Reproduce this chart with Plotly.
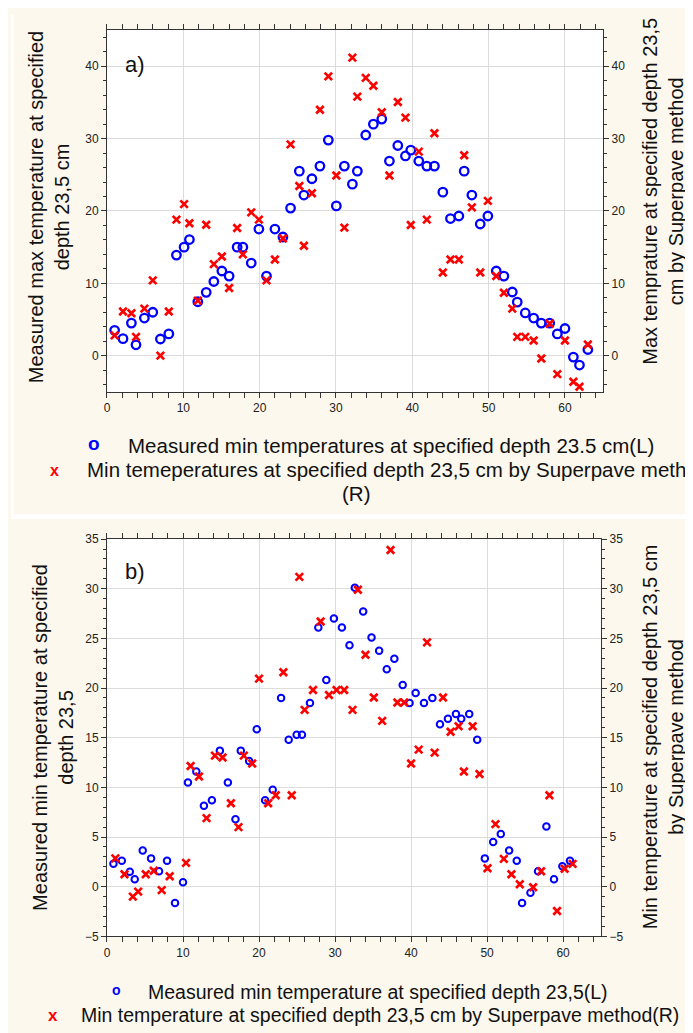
import plotly.graph_objects as go

# panel a) - day index, measured (L) and Superpave (R)
a_x = [1.0, 2.1, 3.2, 3.8, 4.9, 6.0, 7.0, 8.1, 9.1, 10.1, 10.8, 11.9, 13.0, 14.0, 15.05,
       16.0, 17.05, 17.8, 18.9, 19.9, 20.9, 22.0, 23.05, 24.05, 25.2, 25.8, 26.85, 27.9,
       29.0, 30.05, 31.1, 32.15, 32.8, 33.9, 34.9, 36.0, 37.0, 38.1, 39.1, 39.8, 40.85,
       41.9, 42.9, 44.0, 45.0, 46.1, 46.8, 47.8, 48.9, 49.9, 51.0, 52.0, 53.1, 53.75,
       54.8, 55.9, 56.9, 58.0, 59.0, 60.0, 61.1, 61.9, 63.0]
a_measured = [3.5, 2.35, 4.5, 1.5, 5.2, 6.0, 2.3, 3.0, 13.9, 15.0, 16.05, 7.45, 8.75, 10.25,
              11.7, 11.0, 15.0, 15.0, 12.8, 17.5, 11.0, 17.5, 16.4, 20.4, 25.5, 22.2, 24.45,
              26.2, 29.8, 20.7, 26.2, 23.7, 25.5, 30.5, 32.0, 32.7, 26.9, 29.05, 27.6, 28.4,
              26.9, 26.2, 26.2, 22.6, 18.95, 19.3, 25.5, 22.2, 18.2, 19.3, 11.7, 11.0, 8.8,
              7.4, 5.9, 5.2, 4.5, 4.5, 3.0, 3.75, -0.2, -1.3, 0.85]
a_superpave = [2.8, 6.1, 5.85, 2.6, 6.5, 10.4, 0.0, 6.1, 18.8, 20.95, 18.3, 7.6, 18.1, 12.65,
               13.7, 9.35, 17.65, 14.0, 19.8, 18.8, 10.4, 13.3, 16.2, 29.2, 23.45, 15.2, 22.45,
               34.0, 38.6, 24.9, 17.7, 41.2, 35.8, 38.4, 37.3, 33.65, 24.9, 35.05, 32.9, 18.05,
               28.2, 18.8, 30.75, 11.5, 13.3, 13.3, 27.7, 20.5, 11.5, 21.4, 11.0, 8.7, 6.5,
               2.6, 2.6, 2.1, -0.4, 4.4, -2.55, 2.1, -3.6, -4.3, 1.55]

# panel b)
b_meas_x = [0.85, 1.95, 3.0, 3.65, 4.7, 5.8, 6.85, 7.9, 8.95, 10.0, 10.65, 11.75, 12.75, 13.8,
            14.85, 15.9, 16.9, 17.6, 18.7, 19.7, 20.8, 21.8, 22.9, 23.9, 24.95, 25.65, 26.7,
            27.8, 28.85, 29.85, 30.9, 31.9, 32.6, 33.7, 34.8, 35.8, 36.8, 37.8, 38.9, 39.8,
            40.6, 41.7, 42.8, 43.8, 44.85, 45.9, 46.6, 47.65, 48.7, 49.7, 50.8, 51.8, 52.9,
            53.9, 54.6, 55.7, 56.7, 57.8, 58.8, 59.9, 60.9]
b_measured = [2.3, 2.6, 1.5, 0.75, 3.65, 2.85, 1.55, 2.6, -1.65, 0.45, 10.5, 11.6, 8.15, 8.7,
              13.7, 10.5, 6.8, 13.7, 12.65, 15.85, 8.7, 9.75, 19.0, 14.8, 15.3, 15.3, 18.5,
              26.1, 20.8, 27.0, 26.1, 24.3, 30.1, 27.7, 25.1, 23.75, 21.9, 22.95, 20.3, 18.5,
              19.5, 18.5, 19.0, 16.35, 16.9, 17.4, 16.9, 17.4, 14.8, 2.85, 4.5, 5.3, 3.65,
              2.6, -1.65, -0.6, 1.55, 6.05, 0.75, 2.05, 2.6]
b_sp_x = [1.1, 2.3, 3.4, 4.1, 5.1, 6.15, 7.2, 8.25, 10.4, 11.0, 12.1, 13.1, 14.2, 15.2, 16.3,
          17.3, 18.0, 19.1, 20.0, 21.2, 22.2, 23.2, 24.3, 25.3, 26.0, 27.1, 28.1, 29.2, 30.2,
          31.2, 32.3, 33.0, 34.0, 35.1, 36.2, 37.3, 38.2, 39.1, 40.0, 41.0, 42.1, 43.1, 44.2,
          45.2, 46.25, 46.95, 48.1, 49.0, 50.05, 51.1, 52.2, 53.2, 54.3, 56.05, 57.1, 58.2,
          59.2, 60.2, 61.25]
b_superpave = [2.85, 1.25, -1.0, -0.5, 1.25, 1.6, -0.35, 1.05, 2.4, 12.15, 11.1, 6.9, 13.2,
               13.0, 8.4, 6.0, 13.2, 12.4, 20.95, 8.4, 9.2, 21.6, 9.2, 31.2, 17.8, 19.8, 26.7,
               19.3, 19.8, 19.8, 17.8, 29.9, 23.35, 19.05, 16.7, 33.9, 18.55, 18.55, 12.4,
               13.8, 24.6, 13.5, 19.05, 15.6, 16.15, 11.6, 16.15, 11.35, 1.85, 6.3, 2.8, 1.25,
               0.25, -0.05, 1.55, 9.2, -2.45, 1.8, 2.3]

W, H = 693, 1033
OFF = 8  # the page body margin shifts the figure by 8px right and down
FONT = "Liberation Sans, Arial, sans-serif"
CREAM = "#FCF8EE"
BLUE = "#0000FF"
RED = "#FF0000"


# positions below are measured in window pixels; convert to figure paper coords
def px(x):
    return (x - OFF) / W


def py(y):
    return 1 - (y - OFF) / H


fig = go.Figure()

fig.add_trace(go.Scatter(x=a_x, y=a_measured, mode="markers", xaxis="x", yaxis="y",
                         marker=dict(symbol="circle-open", size=8.5, color=BLUE, line=dict(width=2.3, color=BLUE))))
fig.add_trace(go.Scatter(x=a_x, y=a_superpave, mode="markers", xaxis="x", yaxis="y2",
                         marker=dict(symbol="x-thin", size=7.5, color=RED, line=dict(width=2.7, color=RED))))
fig.add_trace(go.Scatter(x=b_meas_x, y=b_measured, mode="markers", xaxis="x2", yaxis="y3",
                         marker=dict(symbol="circle-open", size=6.5, color=BLUE, line=dict(width=2, color=BLUE))))
fig.add_trace(go.Scatter(x=b_sp_x, y=b_superpave, mode="markers", xaxis="x2", yaxis="y4",
                         marker=dict(symbol="x-thin", size=7.5, color=RED, line=dict(width=2.7, color=RED))))

tickfont = dict(family=FONT, size=12, color="#222")


def xaxis(domain, anchor):
    return dict(domain=domain, anchor=anchor, range=[0, 65], tick0=0, dtick=10,
                ticks="outside", ticklen=5, tickcolor="#333", showline=True, linecolor="#333",
                linewidth=1, mirror="allticks", showgrid=True, gridcolor="#DCDCDC",
                zeroline=False, tickfont=tickfont,
                minor=dict(dtick=2, ticks="outside", ticklen=3, tickcolor="#333", showgrid=False))


def yaxis(domain, anchor, rng, dtick, minor, side="left", overlay=None):
    d = dict(domain=domain, anchor=anchor, range=rng, tick0=0, dtick=dtick, side=side,
             ticks="outside", ticklen=5, tickcolor="#333", showline=True, linecolor="#333",
             linewidth=1, zeroline=False, tickfont=tickfont,
             minor=dict(dtick=minor, ticks="outside", ticklen=3, tickcolor="#333", showgrid=False))
    if overlay:
        d.update(overlaying=overlay, showgrid=False)
    else:
        d.update(showgrid=True, gridcolor="#DCDCDC", mirror=True)
    return d


a_dom_x = [px(104.4), px(602.7)]
a_dom_y = [py(390), py(23.3)]
b_dom_x = [px(104.4), px(600.7)]
b_dom_y = [py(942), py(539.3)]

fig.update_layout(
    xaxis=xaxis(a_dom_x, "y"),
    yaxis=yaxis(a_dom_y, "x", [-5, 45], 10, 2),
    yaxis2=yaxis(a_dom_y, "x", [-5, 45], 10, 2, side="right", overlay="y"),
    xaxis2=xaxis(b_dom_x, "y3"),
    yaxis3=yaxis(b_dom_y, "x2", [-5, 35], 5, 1),
    yaxis4=yaxis(b_dom_y, "x2", [-5, 35], 5, 1, side="right", overlay="y3"),
)

# white strips: left of panel a and the gap between the two panels
strips = [(OFF, OFF, 11, 515), (OFF, 514, W + OFF, 519)]
shapes = [dict(type="rect", xref="paper", yref="paper", x0=px(x0), x1=px(x1), y0=py(y1), y1=py(y0),
               fillcolor="white", line=dict(width=0), layer="below") for x0, y0, x1, y1 in strips]


def note(text, x, y, size=20, color="#111", angle=0, xanchor="center"):
    return dict(text=text, x=px(x), y=py(y), xref="paper", yref="paper", showarrow=False,
                textangle=angle, xanchor=xanchor, yanchor="middle",
                font=dict(family=FONT, size=size, color=color))


annotations = [
    note("a)", 133, 58, size=22),
    note("b)", 133, 572, size=22),
    note("Measured max temperature at specified<br>depth 23,5 cm", 47, 203, angle=-90),
    note("Max temprature at specified depth 23,5<br>cm by Superpave method", 662, 187, angle=-90),
    note("Measured min temperature at specified<br>depth 23,5", 50, 740, angle=-90),
    note("Min temperature at specified depth 23,5 cm<br>by Superpave method", 663, 740, angle=-90),
    # legend a)
    note("<b>o</b>", 91, 442, size=19, color=BLUE),
    note("Measured min temperatures at specified depth 23.5 cm(L)", 124, 444, size=20.5, xanchor="left"),
    note("<b>x</b>", 52, 470, size=16, color=RED),
    note("Min temeperatures at specified depth 23,5 cm by Superpave method", 82, 469, size=20.5, xanchor="left"),
    note("(R)", 354, 493, size=20.5),
    # legend b)
    note("<b>o</b>", 114, 996, size=14, color=BLUE),
    note("Measured min temperature at specified depth 23,5(L)", 144, 998, size=19.5, xanchor="left"),
    note("<b>x</b>", 50, 1022, size=17, color=RED),
    note("Min temperature at specified depth 23,5 cm by Superpave method(R)", 76, 1022, size=19.5, xanchor="left"),
]

fig.update_layout(
    width=W, height=H,
    margin=dict(l=0, r=0, t=0, b=0),
    paper_bgcolor=CREAM,
    plot_bgcolor="white",
    showlegend=False,
    shapes=shapes,
    annotations=annotations,
    font=dict(family=FONT),
)

fig.write_html("out.html")
